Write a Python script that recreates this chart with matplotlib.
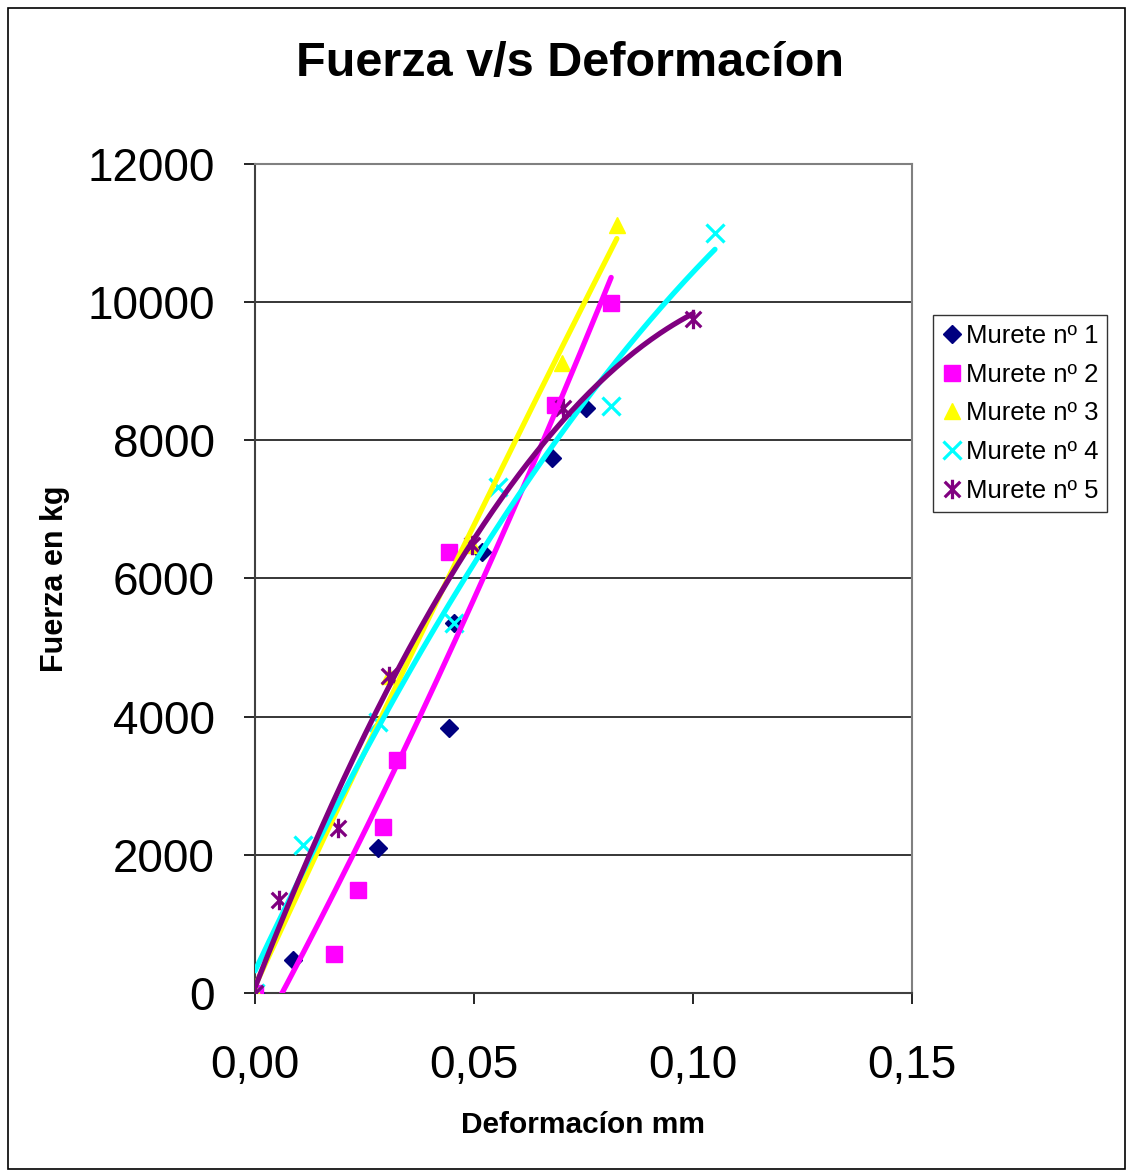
import numpy as np
import matplotlib.pyplot as plt
from matplotlib.patches import Rectangle
from matplotlib.path import Path
from matplotlib.ticker import FuncFormatter

plt.rcParams['font.family'] = ['Liberation Sans', 'DejaVu Sans']

# deformacion (mm) y fuerza (kg) de cada murete
x1 = [0.0, 0.0087, 0.0281, 0.0443, 0.0454, 0.0518, 0.0678, 0.0756]
y1 = [0, 478, 2099, 3836, 5356, 6384, 7744, 8468]

x2 = [0.0, 0.0180, 0.0235, 0.0292, 0.0324, 0.0443, 0.0685, 0.0813]
y2 = [0, 565, 1491, 2403, 3373, 6384, 8512, 9988]

x3 = [0.0, 0.0306, 0.0495, 0.0701, 0.0826]
y3 = [0, 4589, 6485, 9120, 11117]

x4 = [0.0, 0.0110, 0.0281, 0.0454, 0.0555, 0.0813, 0.1050]
y4 = [0, 2142, 3923, 5356, 7325, 8497, 11002]

x5 = [0.0, 0.0055, 0.0189, 0.0306, 0.0495, 0.0703, 0.1000]
y5 = [0, 1346, 2388, 4589, 6485, 8468, 9757]

labels = ['Murete nº 1', 'Murete nº 2', 'Murete nº 3', 'Murete nº 4', 'Murete nº 5']
colors = ['#000080', '#FF00FF', '#FFFF00', '#00FFFF', '#800080']
# grado del polinomio de tendencia (None = sin linea)
trend_deg = [None, 2, 2, 2, 2]

# asterisco de seis brazos: una x con una barra vertical
star = Path([(-1, -1), (1, 1), (-1, 1), (1, -1), (0, -1.25), (0, 1.25)],
            [Path.MOVETO, Path.LINETO, Path.MOVETO, Path.LINETO, Path.MOVETO, Path.LINETO])

marker_style = [
    dict(marker='D', ms=9.5),
    dict(marker='s', ms=11),
    dict(marker='^', ms=12),
    dict(marker='x', ms=13, mew=2.3),
    dict(marker=star, ms=14, mew=2.3),
]

series = [(x1, y1), (x2, y2), (x3, y3), (x4, y4), (x5, y5)]

fig = plt.figure(figsize=(11.27, 11.71), dpi=100)
ax = fig.add_axes([0.2263, 0.1520, 0.5830, 0.7080])

for (xs, ys), lab, c, st in zip(series, labels, colors, marker_style):
    ax.plot(xs, ys, linestyle='none', color=c, label=lab, zorder=3, **st)

for (xs, ys), c, deg in zip(series, colors, trend_deg):
    if deg is None:
        continue
    coef = np.polyfit(xs, ys, deg)
    xx = np.linspace(min(xs), max(xs), 200)
    ax.plot(xx, np.polyval(coef, xx), color=c, lw=3.8, solid_capstyle='round', zorder=4)

ax.set_xlim(0, 0.15)
ax.set_ylim(0, 12000)
ax.set_xticks([0, 0.05, 0.10, 0.15])
ax.set_yticks(range(0, 12001, 2000))
ax.xaxis.set_major_formatter(FuncFormatter(lambda v, p: f'{v:.2f}'.replace('.', ',')))
ax.tick_params(axis='x', labelsize=33, length=8, width=1.2, pad=29, direction='out')
ax.tick_params(axis='y', labelsize=33, length=8, width=1.2, pad=21, direction='out')
ax.grid(axis='y', color='black', lw=1.1)
ax.set_axisbelow(True)

for s in ['left', 'bottom']:
    ax.spines[s].set_color('#404040')
    ax.spines[s].set_linewidth(1.5)
for s in ['top', 'right']:
    ax.spines[s].set_color('#808080')
    ax.spines[s].set_linewidth(1.5)

fig.text(0.506, 0.946, 'Fuerza v/s Deformacíon', ha='center', va='center',
         fontsize=35, fontweight='bold')
fig.text(0.517, 0.0395, 'Deformacíon mm', ha='center', va='center',
         fontsize=21.5, fontweight='bold')
fig.text(0.049, 0.506, 'Fuerza en kg', ha='center', va='center',
         fontsize=22, fontweight='bold', rotation=90)

leg = fig.legend(loc='upper left', bbox_to_anchor=(0.8275, 0.731), fontsize=18.5,
                 frameon=True, fancybox=False, edgecolor='black', handlelength=0.8,
                 handletextpad=0.15, labelspacing=0.57, borderpad=0.35, borderaxespad=0)
leg.get_frame().set_linewidth(1.0)

fig.patches.append(Rectangle((0.007, 0.002), 0.991, 0.991, transform=fig.transFigure,
                             fill=False, edgecolor='black', lw=1.2))

fig.savefig('out.png', dpi=100)
